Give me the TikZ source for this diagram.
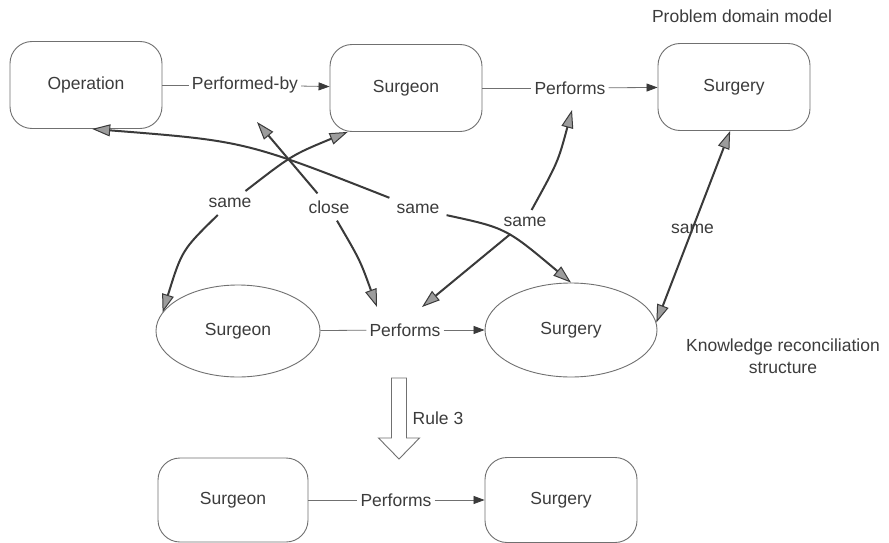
\documentclass[tikz,border=0pt]{standalone}
\usepackage{fontspec}
\setmainfont{Liberation Sans}
\usetikzlibrary{arrows.meta,shapes.geometric}
\definecolor{ink}{HTML}{3A3A3A}
\definecolor{frame}{HTML}{707070}
\definecolor{txt}{HTML}{3C3C3C}
\definecolor{headfill}{HTML}{9C9C9C}

\begin{document}
\begin{tikzpicture}[x=1pt,y=-1pt,
  every node/.style={font=\fontsize{17.5}{22}\selectfont, text=txt},
  box/.style={draw=frame, line width=0.9pt, rounded corners=22pt,
    minimum width=152pt, minimum height=87pt, inner sep=0pt},
  oval/.style={draw=frame, line width=0.9pt, ellipse, inner sep=0pt},
  rlabel/.style={inner sep=3pt},
  slabel/.style={inner sep=7pt},
  rel/.style={draw=frame, line width=0.8pt},
  relto/.style={rel, -{Triangle[length=11pt,width=8pt,color=ink]}},
  bighead/.tip={Triangle[length=18pt,width=12pt,fill=headfill,line width=1pt]},
  link/.style={draw=ink, line width=2pt, -bighead},
  linkboth/.style={draw=ink, line width=2pt, bighead-bighead}
]
\useasboundingbox[fill=white] (0,0) rectangle (889,543);

% problem domain model
\node[box] (op)  at (86,85)  {Operation};
\node[box] (sgT) at (406,88) {Surgeon};
\node[box] (suT) at (734,87) {Surgery};
\node (pdm) at (742,16) {Problem domain model};

\node[rlabel] (lPB) at (245,85) {Performed-by};
\node[rlabel] (lPT) at (570,88) {Performs};
\draw[rel] (op) -- (lPB);
\draw[relto] (lPB) -- (sgT);
\draw[rel] (sgT) -- (lPT);
\draw[relto] (lPT) -- (suT);

% knowledge reconciliation structure
\node[oval, minimum width=164pt, minimum height=92pt] (sgM) at (238,331) {Surgeon};
\node[oval, minimum width=172pt, minimum height=94pt] (suM) at (571,330) {Surgery};
\node[rlabel] (lPM) at (405,330) {Performs};
\draw[rel] (sgM) -- (lPM);
\draw[relto] (lPM) -- (suM);
\node[align=center] (krs) at (783,356) {Knowledge reconciliation\\structure};

% correspondences between the two levels
\coordinate (cPB) at (257,122);
\coordinate (cPMl) at (377,307);
\coordinate (cPT) at (572,110);
\coordinate (cPMr) at (422,307);

\node[slabel] (s1) at (230,203) {same};
\node[slabel] (cl) at (329,207) {close};
\node[slabel] (s2) at (418,209) {same};
\node[slabel] (s3) at (525,222) {same};

\draw[link] (s1) .. controls (292,155) .. (sgT.217);
\draw[link] (s1) .. controls (182,250) .. (sgM.166);
\draw[link] (cl) -- (cPB);
\draw[link] (cl) .. controls (360,260) .. (cPMl);
\draw[link] (s2) .. controls (245,141) .. (op.278);
\draw[link] (s2) .. controls (506,228) .. (suM.north);
\draw[link] (s3) .. controls (558,162) .. (cPT);
\draw[link] (s3) -- (cPMr);
\draw[linkboth] (suT.265) -- (suM.5) node[pos=0.51, inner sep=0pt] (s4) {same};

% rule application
\draw[draw=frame, line width=0.9pt, fill=white]
  (391.5,378) -- (406.5,378) -- (406.5,438) -- (419.5,438) -- (399,459)
  -- (378.5,438) -- (391.5,438) -- cycle;
\node (r3) at (438,418) {Rule 3};

% resulting structure
\node[box, minimum width=150pt, minimum height=84pt] (sgB) at (233,500) {Surgeon};
\node[box, minimum width=152pt, minimum height=85pt] (suB) at (561,500) {Surgery};
\node[rlabel] (lPBot) at (396,500) {Performs};
\draw[rel] (sgB) -- (lPBot);
\draw[relto] (lPBot) -- (suB);
\end{tikzpicture}
\end{document}
